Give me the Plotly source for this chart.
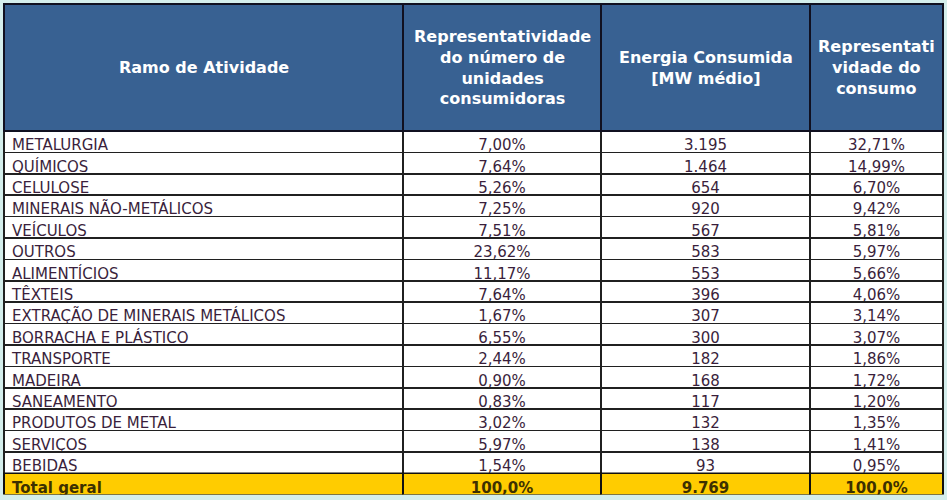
import plotly.graph_objects as go

ramos = ["METALURGIA", "QUÍMICOS", "CELULOSE", "MINERAIS NÃO-METÁLICOS", "VEÍCULOS",
         "OUTROS", "ALIMENTÍCIOS", "TÊXTEIS", "EXTRAÇÃO DE MINERAIS METÁLICOS",
         "BORRACHA E PLÁSTICO", "TRANSPORTE", "MADEIRA", "SANEAMENTO",
         "PRODUTOS DE METAL", "SERVIÇOS", "BEBIDAS"]
repr_unidades = ["7,00%", "7,64%", "5,26%", "7,25%", "7,51%", "23,62%", "11,17%", "7,64%",
                 "1,67%", "6,55%", "2,44%", "0,90%", "0,83%", "3,02%", "5,97%", "1,54%"]
energia = ["3.195", "1.464", "654", "920", "567", "583", "553", "396", "307", "300",
           "182", "168", "117", "132", "138", "93"]
repr_consumo = ["32,71%", "14,99%", "6,70%", "9,42%", "5,81%", "5,97%", "5,66%", "4,06%",
                "3,14%", "3,07%", "1,86%", "1,72%", "1,20%", "1,35%", "1,41%", "0,95%"]
total = ["Total geral", "100,0%", "9.769", "100,0%"]
headers = ["Ramo de Atividade",
           "Representatividade<br>do número de<br>unidades<br>consumidoras",
           "Energia Consumida<br>[MW médio]",
           "Representati<br>vidade do<br>consumo"]

col_w = [399, 198, 209, 133]
header_h = 127
row_h = 21.4
W, H = 947, 500
m_l, m_r, m_t, m_b = 4, 4, 4, 0
plot_h = H - m_t - m_b

n = len(ramos)
aligns = ["left", "center", "center", "center"]
main_bottom = 1 - (header_h + n * row_h) / plot_h
total_bottom = 1 - (header_h + (n + 1) * row_h) / plot_h

fig = go.Figure()
fig.add_trace(go.Table(
    domain=dict(x=[0, 1], y=[main_bottom, 1]),
    columnwidth=col_w,
    header=dict(
        values=[""] * 4,
        fill_color="#386192",
        line=dict(color="#101020", width=2),
        font=dict(family="DejaVu Sans", size=15, color="white"),
        height=header_h,
    ),
    cells=dict(
        values=[ramos, repr_unidades, energia, repr_consumo],
        fill_color="white",
        line=dict(color="#202020", width=1.5),
        font=dict(family="DejaVu Sans", size=15, color="#3a1f3c"),
        align=aligns,
        height=row_h,
    ),
))
# total row
fig.add_trace(go.Table(
    domain=dict(x=[0, 1], y=[total_bottom, main_bottom]),
    columnwidth=col_w,
    header=dict(
        values=total,
        fill_color="#ffcc00",
        line=dict(color="#101010", width=2),
        font=dict(family="DejaVu Sans", size=15, color="#3d3000", weight="bold"),
        align=aligns,
        height=row_h,
    ),
    cells=dict(values=[[], [], [], []], height=row_h),
))

# header labels as centered annotations (each line centered)
tot_w = sum(col_w)
y_center = 1 - (header_h / 2) / plot_h
start = 0
for h, w in zip(headers, col_w):
    fig.add_annotation(
        x=(start + w / 2) / tot_w, y=y_center, xref="paper", yref="paper",
        text="<b>%s</b>" % h, showarrow=False, align="center",
        xanchor="center", yanchor="middle",
        font=dict(family="DejaVu Sans", size=16, color="white"),
    )
    start += w

fig.update_layout(
    width=W, height=H,
    margin=dict(l=m_l, r=m_r, t=m_t, b=m_b),
    paper_bgcolor="#d4eeec",
)
fig.write_html("out.html", config={"displayModeBar": False},
               post_script="document.body.style.margin='0';")
